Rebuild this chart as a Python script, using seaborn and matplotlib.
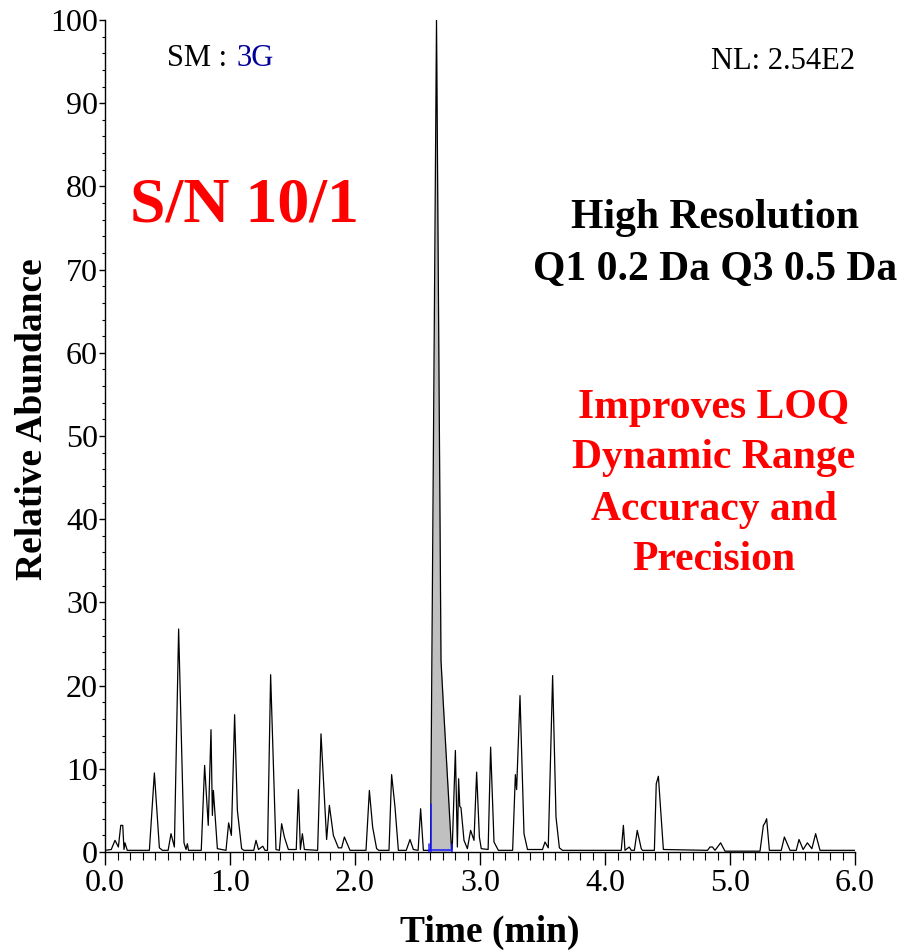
import matplotlib
matplotlib.use("Agg")
import matplotlib.pyplot as plt
from matplotlib.ticker import MultipleLocator, FormatStrFormatter
import seaborn as sns
import pandas as pd

# Chromatogram trace: retention time (min) and relative abundance (%)
time_min = [
    0.000, 0.050, 0.080, 0.107, 0.126, 0.142, 0.152, 0.160, 0.178, 0.355,
    0.395, 0.435, 0.460, 0.505, 0.528, 0.555, 0.589, 0.632, 0.648, 0.659,
    0.668, 0.770, 0.797, 0.826, 0.848, 0.859, 0.867, 0.899, 0.968, 0.989,
    1.011, 1.037, 1.059, 1.093, 1.110, 1.190, 1.208, 1.228, 1.262, 1.280,
    1.300, 1.325, 1.368, 1.395, 1.413, 1.435, 1.467, 1.530, 1.547, 1.563,
    1.579, 1.595, 1.701, 1.728, 1.773, 1.795, 1.827, 1.867, 1.893, 1.915,
    1.960, 2.088, 2.115, 2.141, 2.173, 2.190, 2.272, 2.293, 2.320, 2.347,
    2.410, 2.440, 2.467, 2.505, 2.525, 2.547, 2.604, 2.652, 2.688, 2.706,
    2.772, 2.778, 2.803, 2.819, 2.829, 2.838, 2.848, 2.872, 2.899, 2.925,
    2.952, 2.973, 2.995, 3.010, 3.065, 3.085, 3.112, 3.147, 3.261, 3.283,
    3.293, 3.320, 3.352, 3.380, 3.500, 3.520, 3.546, 3.581, 3.608, 3.635,
    3.660, 4.130, 4.147, 4.160, 4.194, 4.210, 4.235, 4.258, 4.290, 4.300,
    4.395, 4.410, 4.427, 4.467, 4.820, 4.840, 4.860, 4.880, 4.925, 4.960,
    5.240, 5.267, 5.280, 5.293, 5.315, 5.410, 5.435, 5.480, 5.530, 5.552,
    5.585, 5.619, 5.655, 5.685, 5.720, 6.000,
]
abundance = [
    0.2, 0.3, 1.4, 0.6, 3.2, 3.2, 0.3, 1.1, 0.2, 0.2,
    9.5, 0.5, 0.2, 0.2, 2.2, 0.6, 26.8, 1.1, 0.3, 1.0,
    0.2, 0.2, 10.4, 3.2, 14.7, 4.4, 7.4, 0.4, 0.2, 3.5,
    2.0, 16.5, 5.0, 0.4, 0.2, 0.2, 1.4, 0.3, 0.7, 0.2,
    0.2, 21.3, 0.3, 0.2, 3.4, 1.8, 0.3, 0.3, 7.5, 0.3,
    2.2, 0.3, 0.2, 14.2, 1.5, 5.6, 2.0, 0.5, 0.5, 1.8,
    0.2, 0.2, 7.4, 3.0, 0.4, 0.2, 0.2, 9.3, 5.4, 0.2,
    0.2, 1.5, 0.3, 0.2, 5.2, 0.2, 0.2, 100.0, 23.0, 18.0,
    0.3, 0.5, 12.2, 0.6, 8.8, 5.5, 5.3, 1.4, 0.4, 2.6,
    1.4, 9.6, 1.8, 0.4, 0.3, 12.6, 1.2, 0.2, 0.2, 9.3,
    7.5, 18.8, 2.2, 0.3, 0.3, 1.2, 0.5, 21.2, 4.2, 0.5,
    0.2, 0.2, 3.2, 0.2, 0.6, 0.2, 0.2, 2.6, 0.4, 0.2,
    0.2, 8.2, 9.1, 0.3, 0.2, 0.6, 0.6, 0.2, 1.1, 0.1,
    0.1, 3.2, 3.5, 4.0, 0.2, 0.2, 1.8, 0.2, 0.2, 1.5,
    0.3, 1.1, 0.4, 2.2, 0.2, 0.2,
]

# Integrated peak window and the integration start-level marker
peak_start, peak_end = 2.604, 2.772
marker_left, marker_top = 2.592, 5.8

x_ticks = [0.0, 1.0, 2.0, 3.0, 4.0, 5.0, 6.0]
y_ticks = [0, 10, 20, 30, 40, 50, 60, 70, 80, 90, 100]

df = pd.DataFrame({"Time (min)": time_min, "Relative Abundance": abundance})

sns.set_style("ticks")
plt.rcParams["font.family"] = ["Liberation Serif", "DejaVu Serif"]
plt.rcParams.update({
    "text.color": "black", "axes.labelcolor": "black",
    "xtick.color": "black", "ytick.color": "black",
    "axes.edgecolor": "black",
})

fig = plt.figure(figsize=(9.07, 9.52), dpi=100)
ax = fig.add_axes([105 / 907, 1 - 852 / 952, 750 / 907, 832 / 952])

# shaded integrated area under the main peak
peak = df[(df["Time (min)"] >= peak_start) & (df["Time (min)"] <= peak_end)]
ax.fill_between(peak["Time (min)"], 0, peak["Relative Abundance"],
                color="#c0c0c0", lw=0, zorder=1)

sns.lineplot(data=df, x="Time (min)", y="Relative Abundance", sort=False,
             color="black", linewidth=0.9, ax=ax, zorder=3)

# integration baseline markers
blue = "#1a1aff"
ax.plot([peak_start, peak_start], [0, marker_top], color=blue, lw=1.1, zorder=4)
ax.plot([marker_left, peak_end], [0.25, 0.25], color=blue, lw=1.1, zorder=4)
for xm in (marker_left, peak_end):
    ax.plot([xm, xm], [-0.7, 1.0], color=blue, lw=1.1, zorder=4)

ax.set_xlim(0, 6.0)
ax.set_ylim(0, 100)
sns.despine(ax=ax)
for s in ("left", "bottom"):
    ax.spines[s].set_linewidth(1.0)
    ax.spines[s].set_color("black")
ax.spines["bottom"].set_zorder(2)

ax.set_xticks(x_ticks)
ax.set_yticks(y_ticks)
ax.xaxis.set_major_formatter(FormatStrFormatter("%.1f"))
ax.xaxis.set_minor_locator(MultipleLocator(0.1))
ax.yaxis.set_minor_locator(MultipleLocator(2))
ax.tick_params(axis="x", which="major", length=9, width=1.0, labelsize=23, pad=3)
ax.tick_params(axis="x", which="minor", length=5.5, width=0.8)
ax.tick_params(axis="y", which="major", length=4, width=1.0, labelsize=23, pad=1)
ax.tick_params(axis="y", which="minor", length=2.5, width=0.8)

ax.set_xlabel("Time (min)", fontsize=27, fontweight="bold", va="center")
ax.set_ylabel("Relative Abundance", fontsize=27, fontweight="bold", va="center")
ax.xaxis.set_label_coords(0.513, -0.097)
ax.yaxis.set_label_coords(-0.096, 0.52)

ax.text(0.496, 95.4, "SM :", fontsize=22, color="black", va="center", ha="left")
ax.text(1.048, 95.4, "3G", fontsize=22, color="#000099", va="center", ha="left")
ax.text(6.0, 95.0, "NL: 2.54E2", fontsize=22, color="black", va="center", ha="right")

ax.text(0.2, 77.6, "S/N 10/1", fontsize=46, fontweight="bold", color="#ff0000",
        va="center", ha="left")

ax.text(4.88, 76.2, "High Resolution", fontsize=30, fontweight="bold",
        color="black", va="center", ha="center")
ax.text(4.88, 70.0, "Q1 0.2 Da Q3 0.5 Da", fontsize=30, fontweight="bold",
        color="black", va="center", ha="center")

for label, yv in (("Improves LOQ", 53.4), ("Dynamic Range", 47.4),
                  ("Accuracy and", 41.1), ("Precision", 35.1)):
    ax.text(4.87, yv, label, fontsize=30, fontweight="bold", color="#ff0000",
            va="center", ha="center")

fig.savefig("out.png", dpi=100)
